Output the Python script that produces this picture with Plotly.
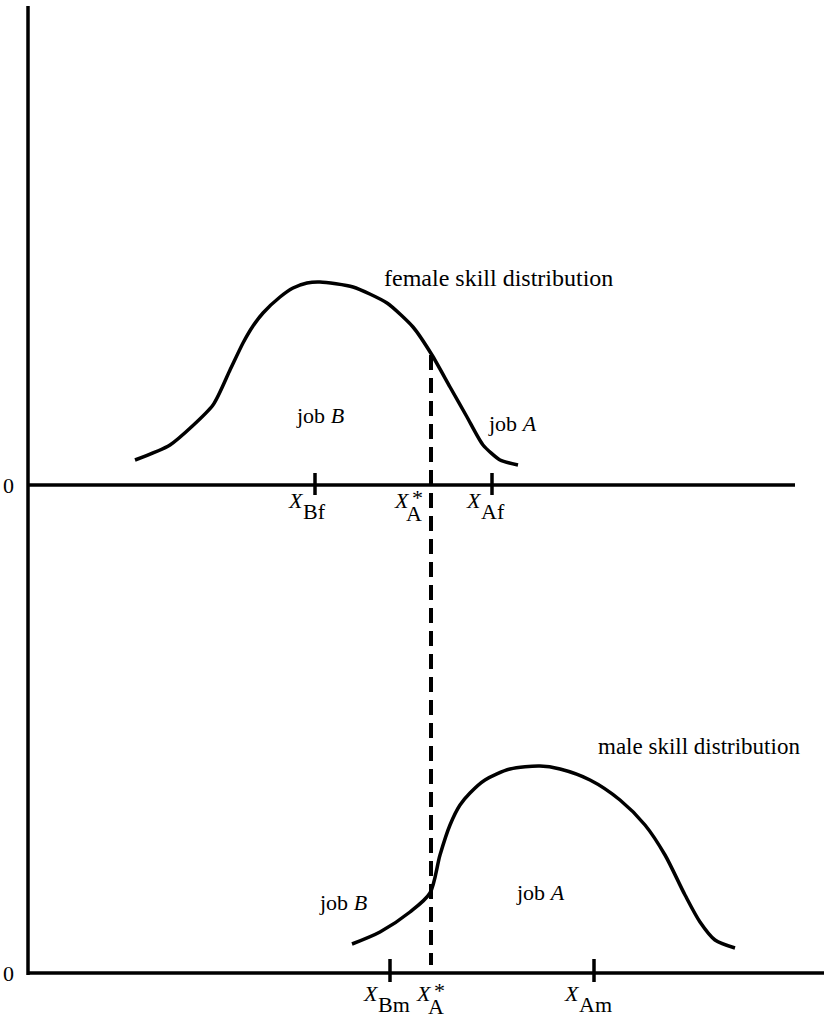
import plotly.graph_objects as go

# ---- data (skill position, density height) ----
female_skill = [135, 170, 213, 230, 243, 253, 263, 280, 293, 307, 320, 353, 387, 413, 432, 450, 467, 483, 500, 518]
female_density = [25, 40, 80, 115, 142, 159, 172, 188, 197, 202, 203, 198, 182, 158, 130, 98, 68, 40, 25, 20]

male_skill = [352, 380, 410, 430, 440, 450, 460, 470, 485, 510, 540, 560, 590, 620, 645, 665, 685, 700, 715, 735]
male_density = [29, 41, 61, 80, 118, 148, 168, 180, 193, 204, 207, 204, 193, 173, 148, 118, 78, 51, 33, 25]

x_cut = 431          # X_A*
female_ticks = {"Bf": 315, "Af": 492}
male_ticks = {"Bm": 390, "Am": 594}

FONT = "Liberation Serif, Times New Roman, serif"
BLACK = "#000000"
LW = 3.5

fig = go.Figure()

# female curve (top panel)
fig.add_trace(go.Scatter(x=female_skill, y=female_density, mode="lines",
                         line=dict(color=BLACK, width=LW, shape="spline", smoothing=0.6),
                         xaxis="x", yaxis="y"))
# male curve (bottom panel)
fig.add_trace(go.Scatter(x=male_skill, y=male_density, mode="lines",
                         line=dict(color=BLACK, width=LW, shape="spline", smoothing=0.8),
                         xaxis="x", yaxis="y2"))

# dashed cutoff line from female curve down to male axis
fig.add_trace(go.Scatter(x=[x_cut, x_cut], y=[130, -480], mode="lines",
                         line=dict(color=BLACK, width=4, dash="15px,8px"),
                         xaxis="x", yaxis="y"))

# axes lines
fig.add_trace(go.Scatter(x=[28, 28], y=[479, -490], mode="lines",
                         line=dict(color=BLACK, width=LW), xaxis="x", yaxis="y"))
fig.add_trace(go.Scatter(x=[28, 795], y=[0, 0], mode="lines",
                         line=dict(color=BLACK, width=LW), xaxis="x", yaxis="y"))
fig.add_trace(go.Scatter(x=[28, 824], y=[0, 0], mode="lines",
                         line=dict(color=BLACK, width=LW), xaxis="x", yaxis="y2"))

# ticks
for k, v in female_ticks.items():
    fig.add_trace(go.Scatter(x=[v, v], y=[12, -10], mode="lines",
                             line=dict(color=BLACK, width=LW), xaxis="x", yaxis="y"))
for k, v in male_ticks.items():
    fig.add_trace(go.Scatter(x=[v, v], y=[14, -9], mode="lines",
                             line=dict(color=BLACK, width=LW), xaxis="x", yaxis="y2"))

ann = []
def txt(x, y, s, yref="y", size=22, xanchor="center"):
    ann.append(dict(x=x, y=y, text=s, xref="x", yref=yref, showarrow=False,
                    xanchor=xanchor, yanchor="middle",
                    font=dict(family=FONT, size=size, color=BLACK)))

def xlabel(xc, sub, yref, base, dx_x, dx_sub):
    # X glyph right edge near xc+dx_x, subscript left edge at xc+dx_sub
    txt(xc + dx_x + 4, base, "<i>X</i>", yref, xanchor="right")
    txt(xc + dx_sub, base - 11, sub, yref, xanchor="left")

def xstar(xc, yref, base):
    # X centered at xc, A subscript and * superscript to its right
    txt(xc, base, "<i>X</i>", yref)
    txt(xc + 12, base - 13, "A", yref)
    txt(xc + 15, base + 3, "*", yref)

xlabel(female_ticks["Bf"], "Bf", "y", -15, -13, -14)
xlabel(female_ticks["Af"], "Af", "y", -15, -12, -13)
xstar(x_cut - 29, "y", -15)
xlabel(male_ticks["Bm"], "Bm", "y2", -20, -13, -14)
xlabel(male_ticks["Am"], "Am", "y2", -20, -16, -17)
xstar(x_cut - 7, "y2", -20)

# text labels
txt(498, 485 - 278, "female skill distribution", "y", 24)
txt(699, 973 - 746, "male skill distribution", "y2", 23)
txt(320, 485 - 415, "job <i>B</i>", "y")
txt(512, 485 - 423, "job <i>A</i>", "y")
txt(343, 973 - 902, "job <i>B</i>", "y2")
txt(540, 973 - 892, "job <i>A</i>", "y2")
txt(8, 0, "0", "y")
txt(8, 0, "0", "y2")

fig.update_layout(
    width=824, height=1020,
    margin=dict(l=0, r=0, t=0, b=0),
    paper_bgcolor="white", plot_bgcolor="white",
    showlegend=False, hovermode=False,
    annotations=ann,
    xaxis=dict(range=[0, 824], visible=False, fixedrange=True),
    yaxis=dict(range=[485 - 1020, 485], visible=False, domain=[0, 1], fixedrange=True),
    yaxis2=dict(range=[973 - 1020, 973], visible=False, overlaying="y", fixedrange=True),
)

fig.write_html("out.html", config={"displayModeBar": False},
               post_script="document.body.style.margin='0';document.body.style.overflow='hidden';")
